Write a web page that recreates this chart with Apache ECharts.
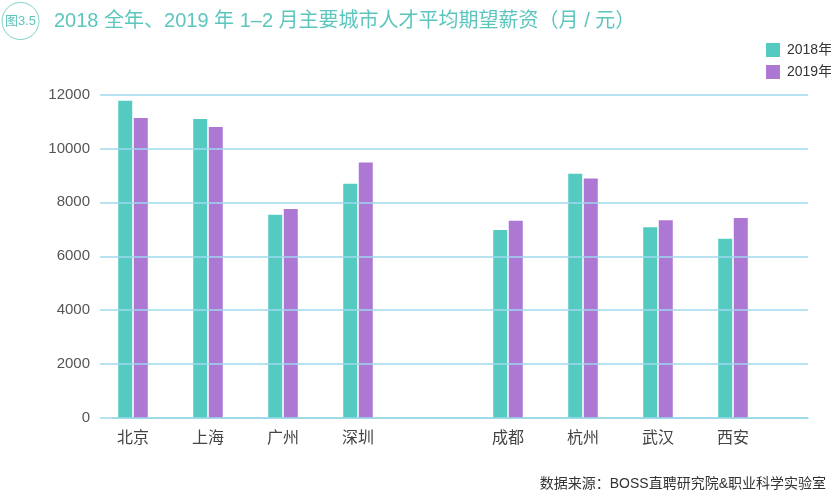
<!DOCTYPE html>
<html>
<head>
<meta charset="utf-8">
<script src="https://cdn.jsdelivr.net/npm/echarts@6/dist/echarts.min.js"></script>
<style>
html,body{margin:0;padding:0;background:#fff;}
#chart{width:831px;height:496px;}
</style>
</head>
<body>
<div id="chart"></div>
<script>
const cities = ['北京', '上海', '广州', '深圳', '', '成都', '杭州', '武汉', '西安'];
const seriesNames = ['2018年', '2019年'];
const values2018 = [11770, 11090, 7540, 8690, null, 6970, 9060, 7080, 6650];
const values2019 = [11130, 10790, 7750, 9480, null, 7320, 8880, 7340, 7420];
const yTicks = { min: 0, max: 12000, interval: 2000 };
const titleText = '2018 全年、2019 年 1–2 月主要城市人才平均期望薪资（月 / 元）';
const badgeText = '图3.5';
const sourceText = '数据来源：BOSS直聘研究院&职业科学实验室';

const TEAL = '#55cac1';
const PURPLE = '#ad78d4';
const FONT = '"Liberation Sans", "Noto Sans CJK SC", sans-serif';

const chart = echarts.init(document.getElementById('chart'), null, { renderer: 'canvas' });
const gridTop = 94.5, gridBottom = 78;

chart.setOption({
  animation: false,
  textStyle: { fontFamily: FONT },
  legend: {
    data: seriesNames,
    orient: 'vertical',
    left: 761,
    top: 38,
    itemWidth: 14,
    itemHeight: 14,
    itemGap: 8,
    icon: 'rect',
    textStyle: { fontSize: 14, color: '#333', fontFamily: FONT, padding: [0, 0, 0, 2] }
  },
  grid: [
    { left: 95.5, width: 675, top: gridTop, bottom: gridBottom },
    { left: 100, right: 23, top: gridTop, bottom: gridBottom },
    { left: 112, right: 23, top: gridTop, bottom: gridBottom }
  ],
  xAxis: [
    {
      type: 'category', gridIndex: 0, data: cities,
      axisLine: { show: false }, axisTick: { show: false },
      axisLabel: { fontSize: 16, color: '#444', margin: 13, fontFamily: FONT }
    },
    { type: 'value', gridIndex: 1, min: 0, max: 1, show: false },
    {
      type: 'value', gridIndex: 2, min: 0, max: 1,
      axisLine: { show: true, lineStyle: { color: '#7fd6cd', width: 1.5 } },
      axisTick: { show: false }, axisLabel: { show: false }, splitLine: { show: false }
    }
  ],
  yAxis: [
    { type: 'value', gridIndex: 0, min: yTicks.min, max: yTicks.max, interval: yTicks.interval, show: false },
    {
      type: 'value', gridIndex: 1, min: yTicks.min, max: yTicks.max, interval: yTicks.interval,
      z: 5,
      axisLine: { show: false }, axisTick: { show: false },
      axisLabel: { fontSize: 15, color: '#555', margin: 10, fontFamily: FONT, formatter: v => String(v) },
      splitLine: { show: true, lineStyle: { color: '#9fd9ee', width: 1.5 } }
    },
    { type: 'value', gridIndex: 2, min: 0, max: 1, show: false }
  ],
  series: [
    {
      name: seriesNames[0], type: 'bar', xAxisIndex: 0, yAxisIndex: 0,
      data: values2018, barWidth: 14, barGap: '11%',
      itemStyle: { color: TEAL }
    },
    {
      name: seriesNames[1], type: 'bar', xAxisIndex: 0, yAxisIndex: 0,
      data: values2019, barWidth: 14, barGap: '11%',
      itemStyle: { color: PURPLE }
    }
  ],
  graphic: [
    {
      type: 'circle', shape: { cx: 20.5, cy: 21, r: 18.5 },
      style: { fill: 'none', stroke: '#7fd0c8', lineWidth: 1 }
    },
    {
      type: 'text', x: 20.5, y: 21,
      style: { text: badgeText, fill: '#5fc4bc', font: '13px ' + FONT, align: 'center', verticalAlign: 'middle' }
    },
    {
      type: 'text', x: 54, y: 21,
      style: { text: titleText, fill: '#5cc6be', font: '20px ' + FONT, align: 'left', verticalAlign: 'middle' }
    },
    {
      type: 'text', x: 826, y: 484,
      style: { text: sourceText, fill: '#333', font: '14px ' + FONT, align: 'right', verticalAlign: 'middle' }
    }
  ]
});
</script>
</body>
</html>
